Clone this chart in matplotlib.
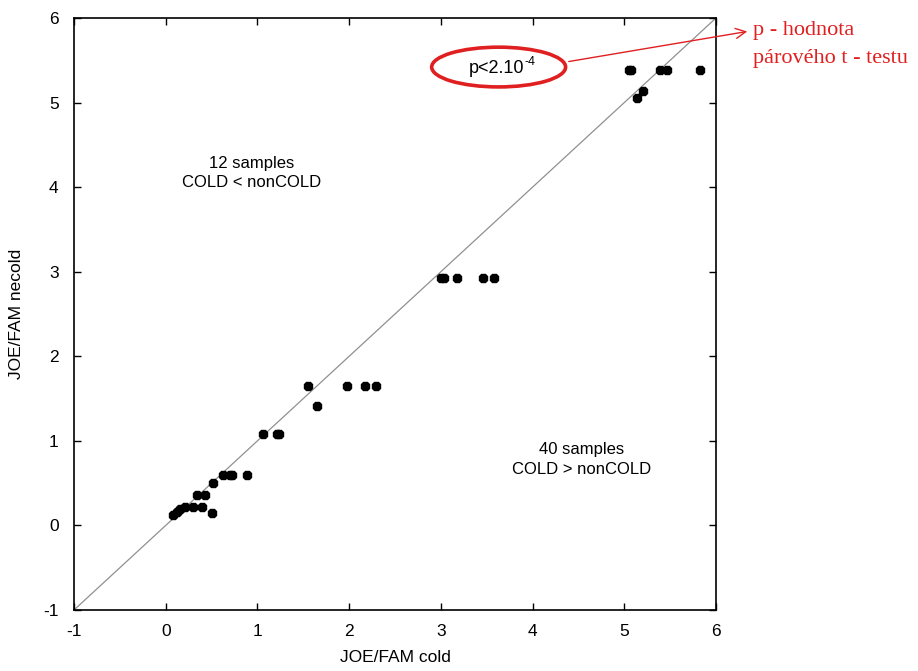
import matplotlib
matplotlib.use("Agg")
import matplotlib.pyplot as plt
from matplotlib.patches import Ellipse

# Data
cold = [0.08, 0.12, 0.16, 0.21, 0.30, 0.40, 0.34, 0.43, 0.50, 0.52, 0.63, 0.70, 0.72, 0.89,
        1.06, 1.21, 1.24, 1.55, 1.65, 1.98, 2.17, 2.29,
        3.00, 3.03, 3.18, 3.46, 3.58,
        5.05, 5.07, 5.14, 5.20, 5.39, 5.47, 5.83]
necold = [0.12, 0.16, 0.19, 0.22, 0.22, 0.22, 0.36, 0.36, 0.15, 0.50, 0.60, 0.60, 0.60, 0.60,
          1.08, 1.08, 1.08, 1.65, 1.41, 1.65, 1.65, 1.65,
          2.93, 2.93, 2.93, 2.93, 2.93,
          5.38, 5.38, 5.05, 5.14, 5.38, 5.38, 5.38]
ticks = [-1, 0, 1, 2, 3, 4, 5, 6]

plt.rcParams['font.family'] = ['Liberation Sans', 'DejaVu Sans']
plt.rcParams['axes.unicode_minus'] = False

fig = plt.figure(figsize=(9.18, 6.71), dpi=100)
ax = fig.add_axes([74/918, 1 - 610/671, (716-74)/918, (610-18)/671])

ax.plot([-1, 6], [-1, 6], color='#909090', lw=0.9, zorder=1)
ax.plot(cold, necold, linestyle='none', marker='8', markersize=7, color='black', zorder=3)

ax.set_xlim(-1, 6)
ax.set_ylim(-1, 6)
ax.set_xticks(ticks)
ax.set_yticks(ticks)
ax.tick_params(direction='in', top=True, right=True, length=5, width=1, labelsize=12.5)
ax.tick_params(axis='x', pad=10)
ax.tick_params(axis='y', pad=11)
for s in ax.spines.values():
    s.set_linewidth(1.2)
ax.set_xlabel('JOE/FAM cold', fontsize=12.5, labelpad=8)
ax.set_ylabel('JOE/FAM necold', fontsize=12.5, labelpad=14)

ax.text(0.94, 4.17, '12 samples\nCOLD < nonCOLD', ha='center', va='center', fontsize=12, linespacing=1.35)
ax.text(4.53, 0.78, '40 samples\nCOLD > nonCOLD', ha='center', va='center', fontsize=12, linespacing=1.35)

t = ax.text(3.30, 5.40, 'p<2.10', ha='left', va='center', fontsize=13)
ax.annotate('-4', xy=(1.0, 0.55), xycoords=t, xytext=(0.5, 0), textcoords='offset points',
            ha='left', va='bottom', fontsize=9)
ax.add_patch(Ellipse((3.63, 5.42), 1.46, 0.47, fill=False, edgecolor='#e02020', lw=2.6, zorder=4))

ax.annotate('', xy=(750/918, 1 - 31/671), xycoords='figure fraction',
            xytext=(566/918, 1 - 62/671), textcoords='figure fraction',
            arrowprops=dict(arrowstyle='->', color='#e02020', lw=1.0, mutation_scale=18))
fig.text(753/918, 1 - 31/671, 'p - hodnota', color='#e02020', fontsize=16,
         family=['Liberation Serif', 'DejaVu Serif'], va='center', ha='left')
fig.text(753/918, 1 - 58/671, 'párového t - testu', color='#e02020', fontsize=16,
         family=['Liberation Serif', 'DejaVu Serif'], va='center', ha='left')

fig.savefig('out.png', dpi=100)
